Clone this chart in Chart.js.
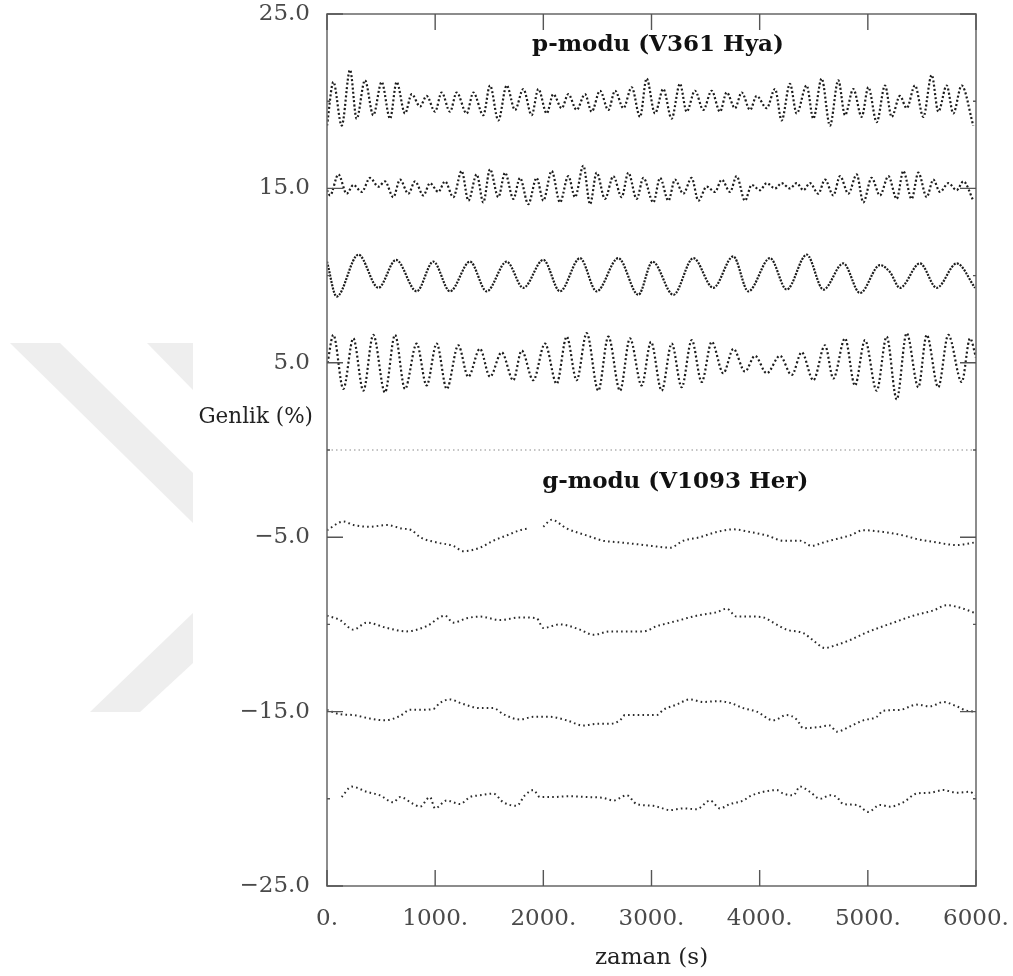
<!DOCTYPE html>
<html>
<head>
<meta charset="utf-8">
<script src="https://cdn.jsdelivr.net/npm/chart.js@4.4.1/dist/chart.umd.min.js"></script>
<style>
  html, body { margin: 0; padding: 0; background: #fff; }
  #wrap { position: relative; width: 1013px; height: 976px; }
  #wm, #chart { position: absolute; left: 0; top: 0; }
</style>
</head>
<body>
<div id="wrap">
  <svg id="wm" width="1013" height="976">
    <g fill="#eeeeee">
      <polygon points="10,343 60,343 193,473 193,523"/>
      <polygon points="147,343 193,343 193,390"/>
      <polygon points="193,613 193,663 140,712 90,712"/>
    </g>
  </svg>
  <canvas id="chart" width="1013" height="976"></canvas>
</div>
<script>
// time (s) and amplitude (%)
const pModeA = [[0,18.6],[59,21.1],[136,18.6],[213,21.8],[274,19.0],[351,21.2],[428,19.2],[505,21.1],[583,19.0],[644,21.1],[721,19.3],[783,20.4],[860,19.7],[921,20.3],[999,19.4],[1060,20.5],[1137,19.4],[1199,20.5],[1291,19.3],[1353,20.5],[1445,19.2],[1507,20.9],[1584,18.9],[1661,20.9],[1738,19.5],[1815,20.7],[1892,19.2],[1954,20.7],[2031,19.3],[2092,20.4],[2170,19.6],[2231,20.4],[2308,19.5],[2385,20.4],[2447,19.4],[2524,20.6],[2601,19.5],[2663,20.6],[2740,19.6],[2817,20.8],[2894,19.1],[2955,21.3],[3032,19.3],[3109,20.7],[3186,19.0],[3263,21.0],[3325,19.4],[3402,20.6],[3479,19.5],[3556,20.6],[3633,19.4],[3695,20.5],[3772,19.6],[3834,20.5],[3911,19.5],[3972,20.3],[4065,19.6],[4142,20.7],[4203,18.9],[4280,21.0],[4342,19.3],[4434,20.9],[4496,19.0],[4573,21.3],[4650,18.6],[4727,21.2],[4789,19.2],[4866,20.7],[4943,19.1],[5005,20.8],[5082,18.8],[5159,20.9],[5220,19.1],[5297,20.3],[5359,19.6],[5436,20.9],[5513,19.1],[5590,21.5],[5652,19.4],[5729,20.9],[5790,19.3],[5867,20.9],[5975,18.6]];

const pModeB = [[0,14.9],[28,14.6],[105,15.8],[182,14.7],[244,15.2],[321,14.8],[398,15.6],[475,15.1],[536,15.4],[613,14.5],[675,15.5],[752,14.7],[814,15.4],[891,14.6],[952,15.3],[1029,14.8],[1091,15.4],[1168,14.5],[1245,16.0],[1307,14.3],[1384,15.8],[1445,14.2],[1507,16.1],[1584,14.5],[1646,15.9],[1723,14.4],[1784,15.6],[1861,14.1],[1938,15.6],[2000,14.3],[2077,16.0],[2154,14.2],[2231,15.7],[2293,14.5],[2370,16.3],[2432,14.1],[2493,15.9],[2570,14.4],[2647,15.7],[2724,14.5],[2786,15.9],[2863,14.4],[2925,15.6],[3017,14.2],[3079,15.6],[3156,14.3],[3217,15.5],[3294,14.7],[3371,15.6],[3433,14.3],[3510,15.1],[3587,14.8],[3649,15.5],[3726,14.8],[3787,15.7],[3864,14.3],[3926,15.2],[4003,14.9],[4065,15.3],[4142,15.0],[4203,15.3],[4280,15.0],[4342,15.3],[4404,14.9],[4465,15.3],[4542,14.7],[4604,15.5],[4681,14.6],[4743,15.7],[4820,14.7],[4897,15.8],[4958,14.2],[5035,15.6],[5112,14.6],[5190,15.7],[5267,14.4],[5328,16.0],[5405,14.4],[5467,15.9],[5544,14.5],[5605,15.5],[5667,14.8],[5744,15.3],[5821,14.9],[5883,15.4],[5975,14.3]];

const pModeC = [[0,10.8],[89,8.8],[290,11.2],[475,9.3],[638,10.9],[829,9.1],[983,10.8],[1137,9.1],[1322,10.8],[1476,9.1],[1661,10.8],[1815,9.3],[2000,10.9],[2154,9.1],[2339,11.0],[2493,9.1],[2693,11.0],[2878,8.9],[3010,10.8],[3202,8.9],[3387,11.0],[3571,9.3],[3756,11.1],[3895,9.1],[4096,11.0],[4250,9.2],[4435,11.2],[4589,9.2],[4773,10.7],[4928,9.0],[5112,10.6],[5205,10.2],[5297,9.3],[5482,10.7],[5637,9.3],[5822,10.7],[5991,9.3]];

const pModeD = [[5,5.0],[59,6.6],[151,3.5],[243,6.4],[336,3.4],[428,6.6],[536,3.3],[629,6.6],[721,3.5],[829,6.1],[921,3.7],[1014,6.1],[1107,3.5],[1214,6.0],[1306,4.2],[1414,5.8],[1507,4.2],[1615,5.6],[1722,4.0],[1800,5.7],[1907,4.0],[2015,6.1],[2123,3.8],[2216,6.5],[2308,4.0],[2401,6.7],[2508,3.4],[2601,6.5],[2709,3.4],[2801,6.4],[2909,3.7],[2995,6.2],[3094,3.4],[3187,6.1],[3279,3.6],[3372,6.3],[3464,3.9],[3557,6.2],[3664,4.4],[3757,5.8],[3864,4.5],[3957,5.4],[4065,4.4],[4188,5.4],[4296,4.3],[4389,5.6],[4496,4.0],[4604,6.0],[4681,4.1],[4789,6.4],[4881,3.7],[4974,6.3],[5082,3.4],[5174,6.5],[5267,2.9],[5359,6.7],[5467,3.6],[5544,6.6],[5651,3.6],[5744,6.6],[5868,3.9],[5945,6.4],[6000,5.3]];

const gModeA = [[0,-4.6],[151,-4.1],[244,-4.3],[398,-4.4],[552,-4.3],[690,-4.5],[783,-4.6],[860,-5.0],[1014,-5.3],[1168,-5.5],[1260,-5.8],[1415,-5.6],[1538,-5.2],[1661,-4.9],[1784,-4.6],[1861,-4.5],[1930,null],[2000,-4.4],[2077,-4.0],[2216,-4.5],[2401,-4.9],[2555,-5.2],[2709,-5.3],[2863,-5.4],[3000,-5.5],[3171,-5.6],[3294,-5.2],[3448,-5.0],[3602,-4.7],[3757,-4.55],[3911,-4.7],[4065,-4.9],[4219,-5.2],[4373,-5.2],[4481,-5.5],[4589,-5.3],[4712,-5.1],[4835,-4.9],[4958,-4.6],[5143,-4.7],[5328,-4.9],[5451,-5.1],[5636,-5.3],[5821,-5.45],[5991,-5.3]];

const gModeB = [[0,-9.5],[120,-9.75],[244,-10.3],[367,-9.9],[552,-10.2],[737,-10.4],[921,-10.1],[1091,-9.5],[1168,-9.9],[1291,-9.65],[1415,-9.55],[1600,-9.75],[1784,-9.6],[1938,-9.65],[2000,-10.2],[2154,-10.0],[2339,-10.3],[2462,-10.6],[2616,-10.4],[2771,-10.4],[2925,-10.4],[3048,-10.1],[3109,-10.0],[3263,-9.75],[3417,-9.5],[3602,-9.3],[3695,-9.1],[3787,-9.55],[3911,-9.55],[4034,-9.6],[4126,-9.9],[4249,-10.3],[4404,-10.5],[4511,-11.0],[4600,-11.35],[4700,-11.2],[4835,-10.9],[4974,-10.5],[5100,-10.2],[5236,-9.9],[5420,-9.5],[5605,-9.2],[5729,-8.9],[5883,-9.1],[5991,-9.35]];

const gModeC = [[0,-14.9],[120,-15.15],[244,-15.2],[398,-15.4],[536,-15.5],[675,-15.25],[767,-14.9],[860,-14.9],[983,-14.85],[1045,-14.5],[1137,-14.3],[1230,-14.5],[1415,-14.8],[1538,-14.8],[1630,-15.15],[1784,-15.45],[1908,-15.3],[2062,-15.3],[2216,-15.5],[2370,-15.8],[2493,-15.7],[2616,-15.7],[2709,-15.5],[2755,-15.2],[2925,-15.2],[3048,-15.2],[3109,-14.9],[3233,-14.6],[3356,-14.3],[3479,-14.45],[3602,-14.4],[3726,-14.5],[3849,-14.8],[3972,-15.0],[4126,-15.5],[4250,-15.2],[4342,-15.45],[4404,-15.95],[4527,-15.9],[4650,-15.8],[4712,-16.15],[4835,-15.85],[4958,-15.5],[5082,-15.3],[5143,-14.95],[5297,-14.9],[5451,-14.6],[5575,-14.7],[5698,-14.45],[5821,-14.7],[5914,-14.95],[5991,-15.0]];

const gModeD = [[136,-19.9],[228,-19.3],[367,-19.6],[490,-19.8],[613,-20.2],[675,-19.9],[798,-20.3],[860,-20.45],[952,-19.9],[999,-20.55],[1106,-20.1],[1230,-20.3],[1322,-19.9],[1415,-19.8],[1538,-19.7],[1630,-20.2],[1753,-20.4],[1830,-19.8],[1908,-19.5],[1969,-19.9],[2092,-19.9],[2246,-19.85],[2401,-19.9],[2555,-19.95],[2647,-20.1],[2771,-19.8],[2863,-20.3],[3017,-20.4],[3079,-20.5],[3171,-20.65],[3294,-20.55],[3417,-20.6],[3541,-20.1],[3633,-20.55],[3726,-20.3],[3849,-20.1],[3911,-19.85],[4034,-19.6],[4157,-19.5],[4219,-19.7],[4311,-19.8],[4373,-19.3],[4465,-19.6],[4558,-20.0],[4650,-19.8],[4712,-19.9],[4773,-20.3],[4897,-20.35],[5005,-20.75],[5112,-20.35],[5205,-20.45],[5328,-20.2],[5451,-19.7],[5575,-19.65],[5698,-19.5],[5821,-19.65],[5944,-19.6],[5991,-19.8]];

const zeroLine = [[0,0],[6000,0]];

const xTickValues = [0,1000,2000,3000,4000,5000,6000];
const yTickValues = [-25,-20,-15,-10,-5,0,5,10,15,20,25];
const yLabelled = [25,15,5,-5,-15,-25];
const panelTitles = ['p-modu (V361 Hya)', 'g-modu (V1093 Her)'];

const serif = "'DejaVu Serif', serif";

function pts(arr) {
  return arr.map(([x, y]) => ({ x, y }));
}

function pDataset(arr, dash) {
  return {
    data: pts(arr),
    borderColor: '#1c1c1c',
    borderWidth: 2.2,
    borderDash: dash,
    pointRadius: 0,
    cubicInterpolationMode: 'monotone',
    fill: false
  };
}

function gDataset(arr) {
  return {
    data: pts(arr),
    borderColor: '#2a2a2a',
    borderWidth: 2,
    borderDash: [1.6, 3.2],
    pointRadius: 0,
    cubicInterpolationMode: 'monotone',
    spanGaps: false,
    fill: false
  };
}

// frame, inward ticks and the free texts
const framePlugin = {
  id: 'frame',
  afterDraw(chart) {
    const { ctx, chartArea: a, scales: { x, y } } = chart;
    ctx.save();

    ctx.strokeStyle = '#707070';
    ctx.lineWidth = 1.6;
    ctx.strokeRect(a.left, a.top, a.right - a.left, a.bottom - a.top);

    ctx.strokeStyle = '#555';
    ctx.lineWidth = 1.4;
    ctx.beginPath();
    xTickValues.forEach(v => {
      const px = x.getPixelForValue(v);
      ctx.moveTo(px, a.bottom); ctx.lineTo(px, a.bottom - 16);
      ctx.moveTo(px, a.top); ctx.lineTo(px, a.top + 16);
    });
    yTickValues.forEach(v => {
      const py = y.getPixelForValue(v);
      const len = yLabelled.includes(v) ? 16 : 3;
      ctx.moveTo(a.left, py); ctx.lineTo(a.left + len, py);
      ctx.moveTo(a.right, py); ctx.lineTo(a.right - len, py);
    });
    ctx.stroke();

    ctx.fillStyle = '#111';
    ctx.textAlign = 'center';
    ctx.textBaseline = 'middle';
    ctx.font = 'bold 23px ' + serif;
    ctx.fillText(panelTitles[0], x.getPixelForValue(3060), y.getPixelForValue(23.2));
    ctx.fillText(panelTitles[1], x.getPixelForValue(3220), y.getPixelForValue(-1.85));

    ctx.font = '21.5px ' + serif;
    ctx.fillStyle = '#222';
    ctx.textAlign = 'right';
    ctx.fillText('Genlik (%)', a.left - 14, y.getPixelForValue(1.85));
    ctx.restore();
  }
};

new Chart(document.getElementById('chart'), {
  type: 'line',
  data: {
    datasets: [
      {
        data: pts(zeroLine),
        borderColor: '#8a8a8a',
        borderWidth: 1.2,
        borderDash: [1.5, 3],
        pointRadius: 0
      },
      pDataset(pModeA, [2, 2.2]),
      pDataset(pModeB, [2, 2.2]),
      pDataset(pModeC, [2, 1.3]),
      pDataset(pModeD, [2, 2.4]),
      gDataset(gModeA),
      gDataset(gModeB),
      gDataset(gModeC),
      gDataset(gModeD)
    ]
  },
  options: {
    responsive: false,
    animation: false,
    layout: { padding: { top: 14, right: 37, left: 0, bottom: 0 } },
    plugins: {
      legend: { display: false },
      tooltip: { enabled: false }
    },
    scales: {
      x: {
        type: 'linear',
        min: 0,
        max: 6000,
        grid: { display: false, drawTicks: false },
        border: { display: false },
        afterBuildTicks: s => { s.ticks = xTickValues.map(value => ({ value })); },
        afterFit: s => { s.height = 90; s.paddingLeft = 0; s.paddingRight = 0; },
        ticks: {
          maxRotation: 0,
          autoSkip: false,
          padding: 19,
          color: '#4a4a4a',
          font: { family: serif, size: 23 },
          callback: v => v + '.'
        },
        title: {
          display: true,
          text: 'zaman (s)',
          color: '#222',
          font: { family: serif, size: 23 },
          padding: { top: 2, bottom: 4 }
        }
      },
      y: {
        type: 'linear',
        min: -25,
        max: 25,
        grid: { display: false, drawTicks: false },
        border: { display: false },
        afterBuildTicks: s => { s.ticks = yTickValues.map(value => ({ value })); },
        afterFit: s => { s.width = 327; s.paddingTop = 0; s.paddingBottom = 0; },
        ticks: {
          autoSkip: false,
          padding: 17,
          color: '#4a4a4a',
          font: { family: serif, size: 23 },
          callback: v => yLabelled.includes(v) ? (v < 0 ? '\u2212' : '') + Math.abs(v).toFixed(1) : ''
        }
      }
    }
  },
  plugins: [framePlugin]
});
</script>
</body>
</html>
